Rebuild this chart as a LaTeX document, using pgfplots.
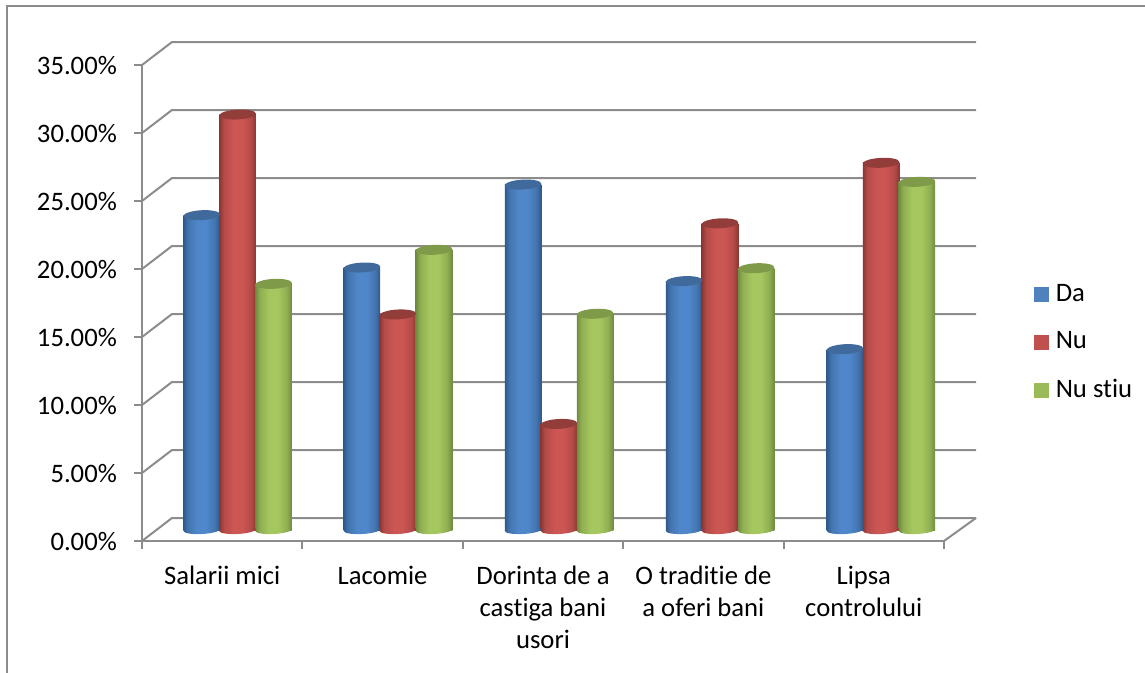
\documentclass[border=0pt]{standalone}
\usepackage{fontspec}
\setmainfont[Ligatures=NoCommon]{Carlito}
\usepackage{pgfplots}
\usepackage{pgfplotstable}
\pgfplotsset{compat=1.18}

% one reference pixel is 0.75pt throughout
\definecolor{gridgray}{HTML}{8C8C8C}
\definecolor{cda}{HTML}{4F81BD}
\definecolor{cnu}{HTML}{C0504D}
\definecolor{cst}{HTML}{9BBB59}
\definecolor{topda}{HTML}{3F6A9B}
\definecolor{topnu}{HTML}{933D3B}
\definecolor{topst}{HTML}{7F9A49}
\definecolor{da1}{HTML}{2E5A8B}\definecolor{da2}{HTML}{4374AE}\definecolor{da3}{HTML}{5087CA}
\definecolor{nu1}{HTML}{8C3634}\definecolor{nu2}{HTML}{B44B48}\definecolor{nu3}{HTML}{CC5654}
\definecolor{st1}{HTML}{6F8B3F}\definecolor{st2}{HTML}{8FAE52}\definecolor{st3}{HTML}{A6C75F}

\newcommand\declcyl[1]{%
  \pgfdeclarehorizontalshading{cyl#1}{100bp}{color(0bp)=(#11); color(25bp)=(#11); color(31bp)=(#12);
    color(44bp)=(#13); color(56bp)=(#13); color(68bp)=(#12); color(75bp)=(#11); color(100bp)=(#11)}%
  \pgfdeclareplotmark{base#1}{\pgftransformrotate{3}%
    \pgfpathellipse{\pgfpointorigin}{\pgfqpoint{13.7pt}{0pt}}{\pgfqpoint{0pt}{3pt}}%
    \pgfshadepath{cyl#1}{0}\pgfusepath{discard}}}
\declcyl{da}\declcyl{nu}\declcyl{st}
\pgfdeclareplotmark{cyltop}{\pgftransformrotate{3}%
  \pgfpathellipse{\pgfpointorigin}{\pgfqpoint{13.7pt}{0pt}}{\pgfqpoint{0pt}{3.7pt}}%
  \pgfusepathqfill}

\pgfplotstableread{
x     y
0.276 23.15
1.275 19.3
2.279 25.4
3.283 18.3
4.286 13.3
}\tabda
\pgfplotstableread{
x     y
0.500 30.55
1.499 15.85
2.503 7.8
3.507 22.55
4.511 27.0
}\tabnu
\pgfplotstableread{
x     y
0.724 18.1
1.724 20.6
2.728 15.9
3.732 19.25
4.735 25.6
}\tabst

% a series' bars share one path, so each shaft gets its own plot to get its own shading
\newcommand\shaft[3]{%
  \addplot[ybar, bar width=27.4pt, bar shift=0pt, draw=none, shade, shading=cyl#2, shading angle=0, forget plot,
    skip coords between index={0}{#3}, skip coords between index={\the\numexpr#3+1\relax}{5}] table[x=x, y=y] {#1};
}
% one cylinder series: feet, shafts, tops
\newcommand\cyl[3]{%
  \addplot[only marks, mark=base#2, forget plot] table[x=x, y expr=0] {#1};
  \shaft{#1}{#2}{0}\shaft{#1}{#2}{1}\shaft{#1}{#2}{2}\shaft{#1}{#2}{3}\shaft{#1}{#2}{4}
  \addplot[only marks, mark=cyltop, mark options={fill=#3, draw=none}, forget plot] table[x=x, y=y] {#1};
}

\begin{document}
\fontsize{20}{24}\selectfont
\begin{tikzpicture}
\path[use as bounding box] (0pt,0pt) rectangle (858.75pt,-504.75pt);
\draw[gridgray, line width=1.5pt] (4.9pt,-504.75pt) -- (4.9pt,-4.5pt) -- (858.75pt,-4.5pt);

% front plane: axes, ticks, labels, back wall
\begin{axis}[
    at={(106.5pt,-405.75pt)}, anchor=south west,
    scale only axis, width=601.5pt, height=357pt,
    xmin=0, xmax=5, ymin=0, ymax=35,
    clip=false,
    axis x line*=bottom, axis y line*=left,
    axis line style={gridgray, line width=1.5pt, -},
    ytick={0,5,...,35},
    xtick={0.5,1.5,2.5,3.5,4.5},
    xticklabels={Salarii mici, Lacomie, Dorinta de a\\castiga bani\\usori, O traditie de\\a oferi bani, Lipsa\\controlului},
    minor xtick={0,1,2,3,4,5},
    tick align=outside,
    major tick length=6pt, minor tick length=6pt,
    y tick style={gridgray, line width=1.5pt},
    minor x tick style={gridgray, line width=1.5pt},
    major x tick style={draw=none},
    xticklabel style={align=center, font=\fontsize{20}{24}\selectfont, anchor=north, yshift=-6pt},
    yticklabel style={font=\fontsize{20}{24}\selectfont, xshift=-6pt, yshift=-0.5pt},
    yticklabel={\pgfmathprintnumber{\tick}\%},
    /pgf/number format/.cd, fixed, fixed zerofill, precision=2, assume math mode=true,
    /pgfplots/.cd,
    legend style={at={(1.112,0.416)}, anchor=west, draw=none, fill=none,
      row sep=19.75pt, inner sep=0pt,
      nodes={inner sep=0pt, font=\fontsize{20}{24}\selectfont},
      /tikz/column 1/.style={column sep=5pt}},
    legend cell align=left,
    legend image code/.code={\fill[#1] (0pt,-5.6pt) rectangle (11.25pt,5.6pt);},
]
\pgfplotsinvokeforeach{0,5,...,35}{
  \draw[gridgray, line width=1.5pt] (axis cs:0,#1) -- ([shift={(22.5pt,17.25pt)}]axis cs:0,#1) -- ([shift={(24pt,17.25pt)}]axis cs:5,#1);
}
\draw[gridgray, line width=1.5pt] (axis cs:5,0) -- ([shift={(24pt,17.25pt)}]axis cs:5,0);
\addlegendimage{fill=cda, draw=none}\addlegendentry{Da}
\addlegendimage{fill=cnu, draw=none}\addlegendentry{Nu}
\addlegendimage{fill=cst, draw=none}\addlegendentry{Nu stiu}
\end{axis}

% cylinders stand halfway into the floor
\begin{axis}[
    at={(118.1pt,-397.5pt)}, anchor=south west,
    scale only axis, width=601.5pt, height=357pt,
    xmin=0, xmax=5, ymin=0, ymax=35,
    clip=false, hide axis,
]
\cyl{\tabda}{da}{topda}
\cyl{\tabnu}{nu}{topnu}
\cyl{\tabst}{st}{topst}
\end{axis}
\end{tikzpicture}
\end{document}
